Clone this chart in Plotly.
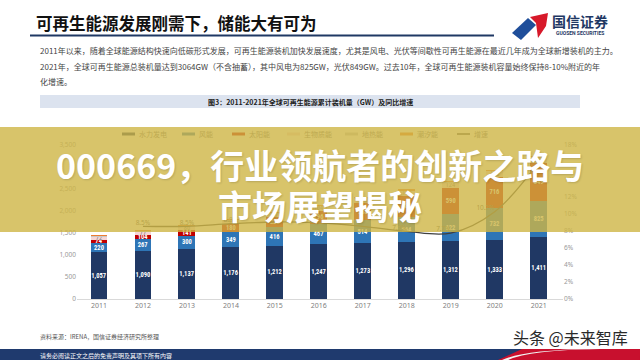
import plotly.graph_objects as go

# ---------------- data ----------------
years = ['2011', '2012', '2013', '2014', '2015', '2016', '2017', '2018', '2019', '2020', '2021']
hydro = [1057, 1090, 1137, 1176, 1212, 1247, 1273, 1296, 1312, 1333, 1411]
wind = [220, 267, 300, 349, 416, 467, 514, 564, 622, 732, 825]
solar = [74, 104, 141, 180, 228, 296, 388, 486, 590, 716, 849]
biomass = [72, 77, 86, 91, 97, 104, 111, 117, 124, 133, 143]
geothermal = [11, 11, 12, 13, 13, 13, 14, 14, 14, 14, 15]
tidal = [0.5, 0.5, 0.5, 0.5, 0.5, 0.5, 0.5, 0.5, 0.5, 0.5, 0.5]
growth_years = ['2012', '2013', '2014', '2015', '2016', '2017', '2018', '2019', '2020', '2021']
growth = [8.5, 8.5, 8.8, 9.0, 8.9, 8.5, 7.9, 7.7, 10.2, 16.0]
# labels that are legible in the reference (others are hidden under the headline)
growth_labels = ['8.5%', '8.5%', '8.8%', '', '', '', '7.9%', '7.7%', '10.2%', '']
growth_pos = ['top center', 'top center', 'top center', 'top center', 'top center',
              'top center', 'top left', 'top left', 'top left', 'top left']
series_names = ['水力发电', '风能', '太阳能', '生物质能', '地热能', '潮汐能']
line_name = '增速'
left_ticks = [0, 500, 1000, 1500, 2000, 2500, 3500]
right_ticks = [0, 2, 4, 6, 8, 10, 12, 14, 18]

# ---------------- styles ----------------
colors = ['#203864', '#2E75B6', '#C00000', '#F6D5D5', '#C9C9C9', '#ED7D31']
label_colors = ['white', 'white', 'white', '#7F7F7F', None, None]
line_color = '#404040'
OV_RGB = (206, 181, 69)
OV_A = 0.8
FONT = 'Noto Sans CJK SC'
NUMFONT = 'Liberation Sans Narrow, Roboto Condensed, Noto Sans'

L, R, T, B = 77, 563, 145, 299
W, H = 640, 360


def px(x):
    return (x - L) / (R - L)


def py(y):
    return (B - y) / (B - T)


def blend(hexc):
    hexc = hexc.lstrip('#')
    r, g, b = int(hexc[0:2], 16), int(hexc[2:4], 16), int(hexc[4:6], 16)
    c = [round(OV_A * o + (1 - OV_A) * v) for o, v in zip(OV_RGB, (r, g, b))]
    return 'rgb(%d,%d,%d)' % tuple(c)


fig = go.Figure()
all_series = [hydro, wind, solar, biomass, geothermal, tidal]
for name, vals, col, lc in zip(series_names, all_series, colors, label_colors):
    kw = {}
    if lc:
        kw = dict(text=[f'{v:,}' for v in vals], textposition='inside', textangle=0,
                  insidetextanchor='middle', constraintext='none',
                  textfont=dict(size=6.5, color=lc, family=NUMFONT,
                                weight='bold' if lc == 'white' else 'normal'))
    fig.add_trace(go.Bar(x=years, y=vals, name=name, marker=dict(color=col, line=dict(width=0)),
                         yaxis='y', showlegend=False, **kw))

fig.add_trace(go.Scatter(x=growth_years, y=growth, name=line_name, yaxis='y2',
                         mode='lines+text', line=dict(color=line_color, width=1.3, shape='spline'),
                         text=growth_labels, textposition=growth_pos,
                         textfont=dict(size=6.5, color='#595959', family='Noto Sans'),
                         showlegend=False))

shapes = []
annotations = []

# header
annotations.append(dict(x=px(34), y=py(23), xref='paper', yref='paper', xanchor='left', yanchor='middle',
                        text='可再生能源发展刚需下，储能大有可为', showarrow=False,
                        font=dict(family=FONT, size=16.5, color='#111111', weight='bold')))
shapes.append(dict(type='line', xref='paper', yref='paper', x0=px(30), x1=px(494), y0=py(35.5), y1=py(35.5),
                   line=dict(color='#1F3864', width=2)))
# logo
shapes.append(dict(type='path', xref='paper', yref='paper', layer='above',
                   path='M %f,%f L %f,%f L %f,%f L %f,%f Z' % (px(512), py(33), px(528), py(18), px(536), py(25), px(521), py(40)),
                   fillcolor='#1F4E9A', line=dict(width=0)))
shapes.append(dict(type='path', xref='paper', yref='paper', layer='above',
                   path='M %f,%f L %f,%f L %f,%f L %f,%f L %f,%f Z' % (px(530), py(17), px(548), py(13), px(546), py(26), px(538), py(38), px(536), py(23)),
                   fillcolor='#D7192A', line=dict(width=0)))
annotations.append(dict(x=px(580), y=py(21), xref='paper', yref='paper', xanchor='center', yanchor='middle',
                        text='国信证券', showarrow=False,
                        font=dict(family=FONT, size=14, color='#1F3864', weight='bold')))
annotations.append(dict(x=px(580), y=py(33), xref='paper', yref='paper', xanchor='center', yanchor='middle',
                        text='GUOSEN SECURITIES', showarrow=False,
                        font=dict(family='Roboto', size=5, color='#1F3864', weight='bold')))

body = ['2011年以来，随着全球能源结构快速向低碳形式发展，可再生能源装机加快发展速度，尤其是风电、光伏等间歇性可再生能源在最近几年成为全球新增装机的主力。',
        '2021年，全球可再生能源总装机量达到3064GW（不含抽蓄），其中风电为825GW，光伏849GW。过去10年，全球可再生能源装机容量始终保持8-10%附近的年',
        '化增速。']
for i, t in enumerate(body):
    annotations.append(dict(x=px(38), y=py(51 + 15.5 * i), xref='paper', yref='paper', xanchor='left', yanchor='middle',
                            text=t, showarrow=False, font=dict(family=FONT, size=8, color='#444444')))

# caption bar
shapes.append(dict(type='rect', xref='paper', yref='paper', x0=px(40), x1=px(580), y0=py(95), y1=py(108),
                   fillcolor='#DCE3EF', line=dict(width=0)))
annotations.append(dict(x=px(310), y=py(101.5), xref='paper', yref='paper', xanchor='center', yanchor='middle',
                        text='图3：2011-2021年全球可再生能源累计装机量（GW）及同比增速', showarrow=False,
                        font=dict(family=FONT, size=7, color='#222222', weight='bold')))

# legend (swatches under the overlay)
leg_x = [122, 182, 232, 287, 345, 400]
for name, col, x0 in zip(series_names, colors, leg_x):
    shapes.append(dict(type='rect', xref='paper', yref='paper', x0=px(x0), x1=px(x0 + 13), y0=py(132.5), y1=py(135.5),
                       fillcolor=col, line=dict(width=0), layer='above'))
    annotations.append(dict(x=px(x0 + 15), y=py(134), xref='paper', yref='paper', xanchor='left', yanchor='middle',
                            text=name, showarrow=False, font=dict(family=FONT, size=7, color=blend('#808080'))))
shapes.append(dict(type='line', xref='paper', yref='paper', x0=px(457), x1=px(470), y0=py(134), y1=py(134),
                   line=dict(color=line_color, width=1.5), layer='above'))
annotations.append(dict(x=px(472), y=py(134), xref='paper', yref='paper', xanchor='left', yanchor='middle',
                        text=line_name, showarrow=False, font=dict(family=FONT, size=7, color=blend('#808080'))))

# overlay band
shapes.append(dict(type='rect', xref='paper', yref='paper', x0=px(0), x1=px(640), y0=py(127), y1=py(232),
                   fillcolor='rgba(%d,%d,%d,%.2f)' % (OV_RGB + (OV_A,)), line=dict(width=0), layer='above'))

# big headline
annotations.append(dict(x=px(320), y=py(164), xref='paper', yref='paper', xanchor='center', yanchor='middle',
                        text='000669，行业领航者的创新之路与', showarrow=False,
                        font=dict(family=FONT, size=34, color='white', weight='bold',
                                  shadow='1px 1px 2px rgba(0,0,0,0.15)')))
annotations.append(dict(x=px(320), y=py(205), xref='paper', yref='paper', xanchor='center', yanchor='middle',
                        text='市场展望揭秘', showarrow=False,
                        font=dict(family=FONT, size=34, color='white', weight='bold',
                                  shadow='1px 1px 2px rgba(0,0,0,0.15)')))

# footer
annotations.append(dict(x=px(38), y=py(336), xref='paper', yref='paper', xanchor='left', yanchor='middle',
                        text='资料来源：IRENA，国信证券经济研究所整理', showarrow=False,
                        font=dict(family=FONT, size=6, color='#555555')))
shapes.append(dict(type='rect', xref='paper', yref='paper', x0=px(0), x1=px(640), y0=py(349), y1=py(360),
                   fillcolor='#1F3A6E', line=dict(width=0), layer='above'))
shapes.append(dict(type='path', xref='paper', yref='paper', layer='above',
                   path='M %f,%f L %f,%f L %f,%f L %f,%f Z' % (px(498), py(360), px(522), py(349), px(640), py(349), px(640), py(360)),
                   fillcolor='#C8102E', line=dict(width=0)))
shapes.append(dict(type='path', xref='paper', yref='paper', layer='above',
                   path='M %f,%f Q %f,%f %f,%f L %f,%f Q %f,%f %f,%f Z' % (px(508), py(360), px(530), py(350), px(600), py(349),
                                                                         px(590), py(349), px(524), py(350), px(502), py(360)),
                   fillcolor='#F2F2F2', line=dict(width=0)))
annotations.append(dict(x=px(38), y=py(355), xref='paper', yref='paper', xanchor='left', yanchor='middle',
                        text='请务必阅读正文之后的免责声明及其项下所有内容', showarrow=False,
                        font=dict(family=FONT, size=6, color='white')))
annotations.append(dict(x=px(630), y=py(337), xref='paper', yref='paper', xanchor='right', yanchor='middle',
                        text='头条 @未来智库', showarrow=False,
                        font=dict(family=FONT, size=16, color='#2A2A2A',
                                  shadow='0px 0px 2px white')))

fig.update_layout(
    width=W, height=H,
    margin=dict(l=L, r=W - R, t=T, b=H - B, pad=0),
    paper_bgcolor='white', plot_bgcolor='white',
    barmode='stack', bargap=0.616,
    showlegend=False,
    xaxis=dict(type='category', showgrid=False, showline=True, linecolor='#D9D9D9', linewidth=1,
               ticks='', tickfont=dict(size=7, color='#808080', family='Noto Sans'), fixedrange=True),
    yaxis=dict(range=[0, 3500], tickvals=left_ticks, ticktext=[f'{v:,}' for v in left_ticks],
               showgrid=False, zeroline=False, showline=False, ticks='',
               tickfont=dict(size=6.5, color='#999999', family='Noto Sans')),
    yaxis2=dict(range=[0, 18], tickvals=right_ticks, ticktext=[f'{v}%' for v in right_ticks],
                overlaying='y', side='right', showgrid=False, zeroline=False, showline=False, ticks='',
                tickfont=dict(size=6.5, color='#999999', family='Noto Sans')),
    shapes=shapes,
    annotations=annotations,
)

fig.write_html('out.html', config={'displayModeBar': False})
